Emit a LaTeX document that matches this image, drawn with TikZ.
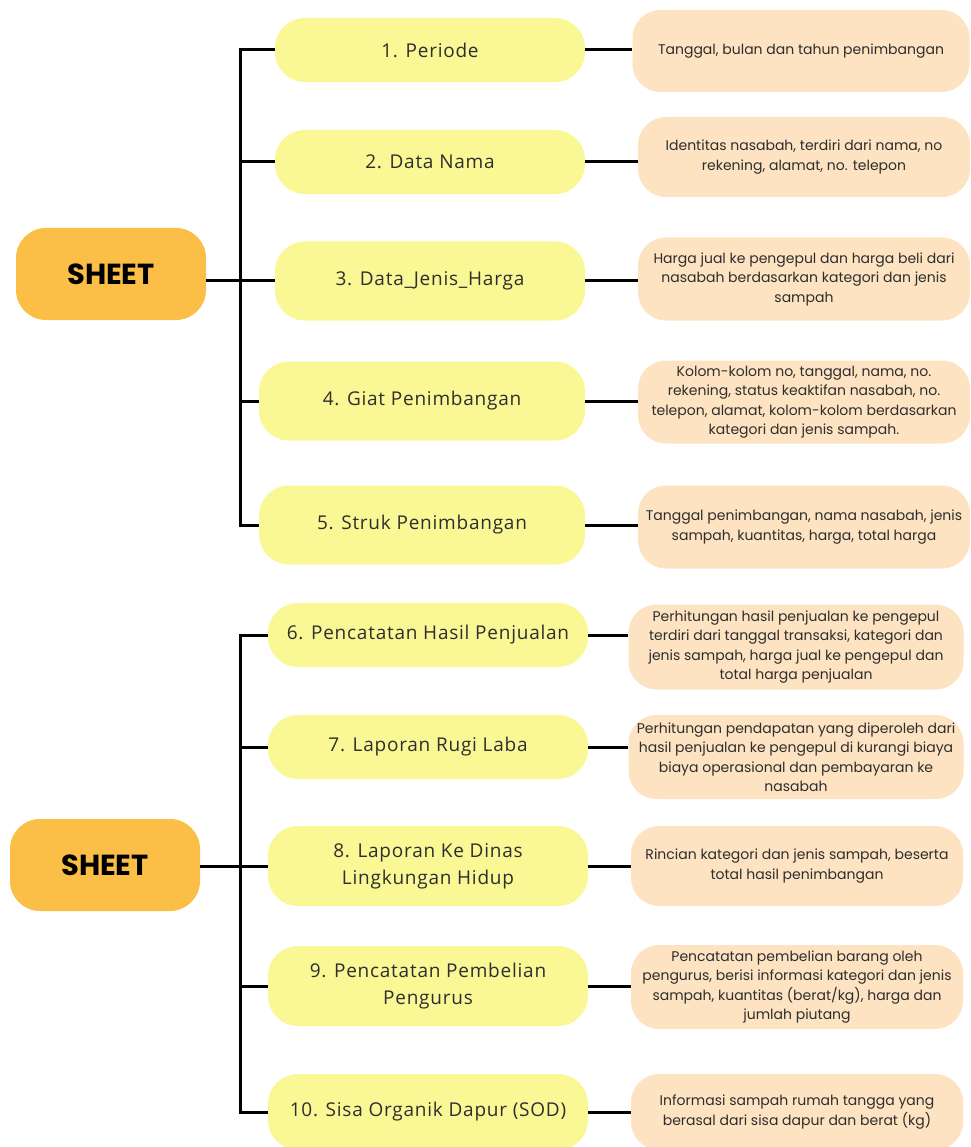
\documentclass[tikz,border=0pt]{standalone}
\usepackage{fontspec}
\setmainfont{Open Sans}[LetterSpace=4]
\newfontfamily\peachfont{Poppins}
\newfontfamily\sheetfont{Poppins}
\definecolor{sheetc}{HTML}{FBBF47}
\definecolor{yelc}{HTML}{FAF795}
\definecolor{peachc}{HTML}{FDE3C1}
\definecolor{txtc}{HTML}{2E2E2E}
\begin{document}
\begin{tikzpicture}[x=1pt,y=-1pt,
  sheetbox/.style={fill=sheetc, rounded corners=30pt, minimum width=190pt, minimum height=92pt, font=\sheetfont\bfseries\fontsize{29}{34}\selectfont, text=black},
  ybox/.style={fill=yelc, rounded corners=30pt, minimum height=64pt, align=center, font=\fontsize{19}{27}\selectfont, text=txtc, inner sep=1pt},
  pbox/.style={fill=peachc, rounded corners=28pt, minimum height=82pt, align=center, font=\peachfont\fontsize{14}{19.5}\selectfont, text=txtc, inner sep=1pt},
  conn/.style={line width=3pt, black}
]
\useasboundingbox (0,0) rectangle (970,1147);

% ---------- top group ----------
\node[sheetbox] (sh1) at (111,274) {SHEET};
\node[ybox, minimum width=310pt] (y1) at (430,50) {1. Periode};
\node[ybox, minimum width=310pt] (y2) at (430,162) {2. Data Nama};
\node[ybox, minimum width=310pt, minimum height=79pt] (y3) at (430,281) {3. Data\_Jenis\_Harga};
\node[ybox, minimum width=326pt, minimum height=79pt] (y4) at (422,401) {4. Giat Penimbangan};
\node[ybox, minimum width=326pt, minimum height=79pt] (y5) at (422,525) {5. Struk Penimbangan};

\node[pbox, minimum width=337pt] (p1) at (801,51) {Tanggal, bulan dan tahun penimbangan};
\node[pbox, minimum width=332pt, minimum height=80pt] (p2) at (804,157) {Identitas nasabah, terdiri dari nama, no\\rekening, alamat, no. telepon};
\node[pbox, minimum width=332pt, minimum height=83pt] (p3) at (804,279) {Harga jual ke pengepul dan harga beli dari\\nasabah berdasarkan kategori dan jenis\\sampah};
\node[pbox, minimum width=332pt, minimum height=83pt] (p4) at (804,402) {Kolom-kolom no, tanggal, nama, no.\\rekening, status keaktifan nasabah, no.\\telepon, alamat, kolom-kolom berdasarkan\\kategori dan jenis sampah.};
\node[pbox, minimum width=332pt, minimum height=83pt] (p5) at (804,527) {Tanggal penimbangan, nama nasabah, jenis\\sampah, kuantitas, harga, total harga};

\coordinate (sp1) at (240,281);
\draw[conn] (y1.west) -| (sp1) |- (y5.west);
\draw[conn] (sp1 |- y2.west) -- (y2.west);
\draw[conn] (sp1 |- y4.west) -- (y4.west);
\draw[conn] (sh1.east |- y3.west) -- (y3.west);
\foreach \i in {1,...,5} {
  \draw[conn] (y\i.east) -- (y\i.east -| p\i.west);
}

% ---------- bottom group ----------
\node[sheetbox] (sh2) at (105,865) {SHEET};
\node[ybox, minimum width=320pt] (y6) at (428,635) {6. Pencatatan Hasil Penjualan};
\node[ybox, minimum width=320pt] (y7) at (428,747) {7. Laporan Rugi Laba};
\node[ybox, minimum width=320pt, minimum height=80pt] (y8) at (428,866) {8. Laporan Ke Dinas\\Lingkungan Hidup};
\node[ybox, minimum width=320pt, minimum height=80pt] (y9) at (428,986) {9. Pencatatan Pembelian\\Pengurus};
\node[ybox, minimum width=320pt, minimum height=76pt] (y10) at (428,1112) {10. Sisa Organik Dapur (SOD)};

\node[pbox, minimum width=335pt, minimum height=85pt] (p6) at (796,647) {Perhitungan hasil penjualan ke pengepul\\terdiri dari tanggal transaksi, kategori dan\\jenis sampah, harga jual ke pengepul dan\\total harga penjualan};
\node[pbox, minimum width=335pt, minimum height=84pt] (p7) at (796,757) {Perhitungan pendapatan yang diperoleh dari\\hasil penjualan ke pengepul di kurangi biaya\\biaya operasional dan pembayaran ke\\nasabah};
\node[pbox, minimum width=332pt, minimum height=80pt] (p8) at (797,866) {Rincian kategori dan jenis sampah, beserta\\total hasil penimbangan};
\node[pbox, minimum width=332pt, minimum height=84pt] (p9) at (797,987) {Pencatatan pembelian barang oleh\\pengurus, berisi informasi kategori dan jenis\\sampah, kuantitas (berat/kg), harga dan\\jumlah piutang};
\node[pbox, minimum width=332pt, minimum height=76pt] (p10) at (797,1112) {Informasi sampah rumah tangga yang\\berasal dari sisa dapur dan berat (kg)};

\coordinate (sp2) at (240,866);
\draw[conn] (y6.west) -| (sp2) |- (y10.west);
\draw[conn] (sp2 |- y7.west) -- (y7.west);
\draw[conn] (sp2 |- y9.west) -- (y9.west);
\draw[conn] (sh2.east |- y8.west) -- (y8.west);
\foreach \i in {6,...,10} {
  \draw[conn] (y\i.east) -- (y\i.east -| p\i.west);
}
\end{tikzpicture}
\end{document}
